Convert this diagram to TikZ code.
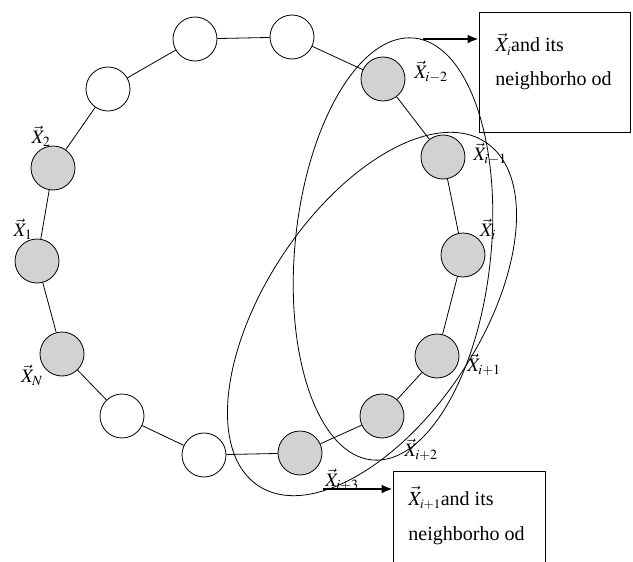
\documentclass[tikz,border=0pt]{standalone}
\usepackage{mathptmx}
\usepackage{fontspec}
\setmainfont{Liberation Serif}
\usetikzlibrary{arrows.meta}
\DeclareMathSizes{19}{19}{14}{11}
\DeclareMathSizes{20}{20}{13}{10}

\tikzset{
  nd/.style={circle, draw, line width=0.8pt, minimum size=44pt, inner sep=0pt},
  gnd/.style={nd, fill=gray!35},
  wnd/.style={nd, fill=white},
  lbl/.style={inner sep=0pt, font=\fontsize{19}{21}\selectfont},
  txt/.style={inner sep=0pt, anchor=base west, font=\fontsize{20}{24}\selectfont},
  bx/.style={draw, line width=0.8pt, inner sep=0pt},
  pt/.style={line width=2.5pt, -{Latex[length=11pt,width=9pt]}}
}

\begin{document}
\begin{tikzpicture}[x=1pt, y=1pt, line width=0.8pt]
  \useasboundingbox (0,0) rectangle (633,-562);
  % neighbourhoods
  \draw[rotate around={84.3:(393,-249)}] (393,-249) ellipse [x radius=212, y radius=98];
  \draw[rotate around={56.5:(372,-314)}] (372,-314) ellipse [x radius=206, y radius=107];
  % the ring
  \node[gnd] (x1) at (37,-261) {};
  \node[gnd] (x2) at (53,-168) {};
  \node[wnd] (u1) at (108,-89) {};
  \node[wnd] (u2) at (195,-39) {};
  \node[wnd] (u3) at (292,-37) {};
  \node[gnd] (xim2) at (383,-79) {};
  \node[gnd] (xim1) at (443,-157) {};
  \node[gnd] (xi) at (463,-255) {};
  \node[gnd] (xip1) at (437,-356) {};
  \node[gnd] (xip2) at (382,-416) {};
  \node[gnd] (xip3) at (300,-453) {};
  \node[wnd] (u4) at (204,-455) {};
  \node[wnd] (u5) at (122,-416) {};
  \node[gnd] (xn) at (62,-354) {};
  \foreach \a/\b in {x1/x2, x2/u1, u1/u2, u2/u3, u3/xim2, xim2/xim1, xim1/xi,
                     xi/xip1, xip1/xip2, xip2/xip3, xip3/u4, u4/u5, u5/xn, xn/x1}
    \draw (\a) -- (\b);
  % labels
  \node[lbl] (lx2) at (41,-136) {$\vec{X}_2$};
  \node[lbl] (lx1) at (23,-229) {$\vec{X}_1$};
  \node[lbl] (lxn) at (32,-375) {$\vec{X}_N$};
  \node[lbl] (lxim2) at (431,-72) {$\vec{X}_{i-2}$};
  \node[lbl] (lxim1) at (490,-154) {$\vec{X}_{i-1}$};
  \node[lbl] (lxi) at (488,-229) {$\vec{X}_i$};
  \node[lbl] (lxip1) at (484,-365) {$\vec{X}_{i+1}$};
  \node[lbl] (lxip2) at (421,-450) {$\vec{X}_{i+2}$};
  \node[lbl] (lxip3) at (342,-480) {$\vec{X}_{i+3}$};
  % boxes
  \node[bx, minimum width=151pt, minimum height=120pt] (bi) at (554.5,-72) {};
  \node[txt] (ti) at (495,-52) {$\vec{X}_i$and its};
  \node[txt] (tin) at (495,-85) {neighborho od};
  \node[bx, minimum width=152pt, minimum height=104pt] (bj) at (469,-523) {};
  \node[txt] (tj) at (408,-505) {$\vec{X}_{i+1}$and its};
  \node[txt] (tjn) at (408,-540) {neighborho od};
  % pointers
  \coordinate (ei) at (423,-39);
  \coordinate (ej) at (323,-489);
  \draw[pt] (ei) -- (ei -| bi.west);
  \draw[pt] (ej) -- (ej -| bj.west);
\end{tikzpicture}
\end{document}
